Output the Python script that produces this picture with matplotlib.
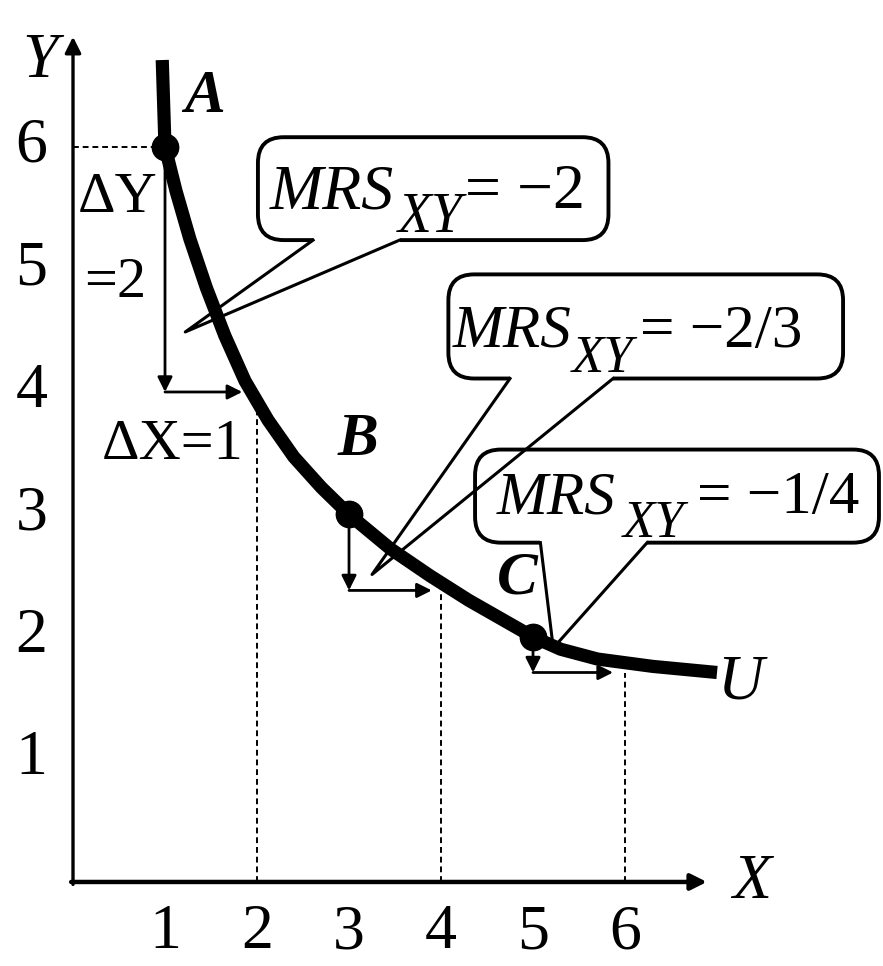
import numpy as np
import matplotlib.pyplot as plt
from matplotlib.patches import FancyBboxPatch

plt.rcParams['font.family'] = ['Liberation Serif', 'DejaVu Serif']

# indifference curve U (X, Y)
curve_x = [0.97, 1.0, 1.12, 1.27, 1.45, 1.65, 1.87, 2.12, 2.4, 2.7, 3.0,
           3.45, 3.88, 4.3, 4.65, 5.0, 5.3, 5.7, 6.3, 7.0]
curve_y = [6.71, 6.0, 5.64, 5.25, 4.85, 4.46, 4.09, 3.77, 3.47, 3.22, 3.0,
           2.72, 2.50, 2.30, 2.15, 2.0, 1.90, 1.82, 1.76, 1.71]

# bundles on the curve
pt_names = ['A', 'B', 'C']
pt_x = [1, 3, 5]
pt_y = [6, 3, 2]

# dY / dX steps from each bundle
step_y_end = [4.0, 2.38, 1.71]
step_x_end = [1.84, 3.9, 5.87]

# dashed guides
guide_x = [2, 4, 6]
guide_top = [3.9, 2.36, 1.71]

ticks = [1, 2, 3, 4, 5, 6]
mrs_values = ['\u22122', '\u22122/3', '\u22121/4']

fig = plt.figure(figsize=(8.83, 9.66), dpi=100)
ax = fig.add_axes([0, 0, 1, 1])
ax.set_xlim(-0.7935, 8.804)
ax.set_ylim(-0.686, 7.2)
ax.axis('off')

# axes with arrow heads
ax.annotate('', xy=(0, 6.9), xytext=(0, -0.02),
            arrowprops=dict(arrowstyle='-|>', lw=2.4, color='k', mutation_scale=24, shrinkA=0, shrinkB=0))
ax.annotate('', xy=(6.89, 0), xytext=(-0.02, 0),
            arrowprops=dict(arrowstyle='-|>', lw=3.2, color='k', mutation_scale=24, shrinkA=0, shrinkB=0))
ax.text(-0.36, 6.69, 'Y', fontsize=46, style='italic', ha='center', va='center')
ax.text(7.38, -0.01, 'X', fontsize=46, style='italic', ha='center', va='center')

for t in ticks:
    ax.text(t, -0.42, str(t), fontsize=46, ha='center', va='center')
    ax.text(-0.45, t, str(t), fontsize=46, ha='center', va='center')

# dashed guides
ax.plot([0, pt_x[0]], [pt_y[0], pt_y[0]], ls=(0, (3, 2)), color='k', lw=1.4)
for gx, gt in zip(guide_x, guide_top):
    ax.plot([gx, gx], [0, gt], ls=(0, (3, 2)), color='k', lw=1.4)

# step arrows
arr = dict(arrowstyle='-|>', lw=2.0, color='k', mutation_scale=22, shrinkA=0, shrinkB=0)
for x0, y0, y1, x1 in zip(pt_x, pt_y, step_y_end, step_x_end):
    ax.annotate('', xy=(x0, y1), xytext=(x0, y0), arrowprops=arr)
    ax.annotate('', xy=(x1, y1), xytext=(x0, y1), arrowprops=arr)

# curve and points
ax.plot(curve_x, curve_y, color='k', lw=9.5, solid_joinstyle='round', solid_capstyle='butt', zorder=5)
ax.plot(pt_x, pt_y, 'o', color='k', ms=19, zorder=6)
ax.text(7.25, 1.62, 'U', fontsize=46, style='italic', ha='center', va='center')

name_pos = [(1.43, 6.41), (3.10, 3.61), (4.83, 2.48)]
for n, (nx, ny) in zip(pt_names, name_pos):
    ax.text(nx, ny, n, fontsize=44, style='italic', weight='bold', ha='center', va='center')

ax.text(0.49, 5.58, '\u0394Y', fontsize=42, ha='center', va='center')
ax.text(0.46, 4.89, '=2', fontsize=42, ha='center', va='center')
ax.text(1.08, 3.57, '\u0394X=1', fontsize=42, ha='center', va='center')

# callout boxes
boxes = [(2.01, 5.24, 5.82, 6.08), (4.08, 4.11, 8.37, 4.96), (4.37, 2.77, 8.76, 3.53)]
bases = [(2.61, 3.55), (4.75, 5.87), (5.08, 6.24)]
tips = [(1.22, 4.49), (3.25, 2.51), (5.22, 1.91)]
text_pos = [(2.14, 5.50, 3.53, 5.31, 4.26, 46, 40),
            (4.13, 4.37, 5.42, 4.16, 6.16, 44, 38),
            (4.61, 3.01, 5.97, 2.82, 6.78, 44, 38)]

for (x0, y0, x1, y1), (b0, b1), (tx, ty), tp, val in zip(boxes, bases, tips, text_pos, mrs_values):
    ax.add_patch(FancyBboxPatch((x0, y0), x1 - x0, y1 - y0,
                                boxstyle='round,pad=0,rounding_size=0.28', mutation_aspect=0.751,
                                fc='none', ec='k', lw=2.8, zorder=2))
    ax.plot([b0, b1], [y0, y0], color='white', lw=6, solid_capstyle='butt', zorder=3)
    ax.plot([b0, tx, b1], [y0, ty, y0], color='k', lw=2.2, zorder=4)
    mx, my, sx, sy, ex, fs, fs2 = tp
    ax.text(mx, my, 'MRS', fontsize=fs, style='italic', ha='left', va='baseline', zorder=7)
    ax.text(sx, sy, 'XY', fontsize=fs2, style='italic', ha='left', va='baseline', zorder=7)
    ax.text(ex, my, '= ' + val, fontsize=fs, ha='left', va='baseline', zorder=7)

fig.savefig('out.png', dpi=100, facecolor='white')
